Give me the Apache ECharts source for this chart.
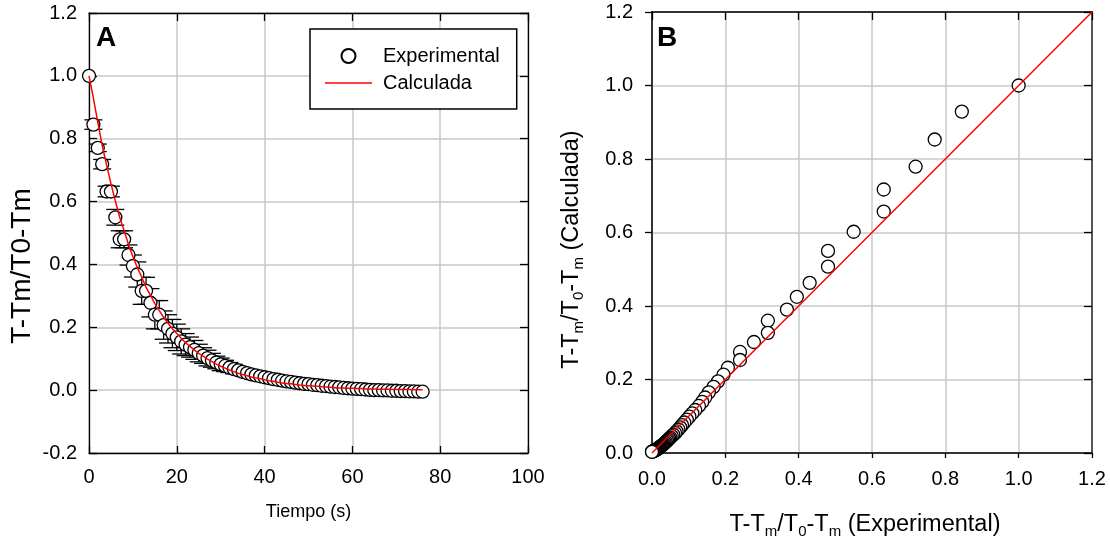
<!DOCTYPE html>
<html>
<head>
<meta charset="utf-8">
<script src="https://cdn.jsdelivr.net/npm/echarts@6/dist/echarts.min.js"></script>
<style>
  html, body { margin: 0; padding: 0; background: #fff; }
  #chart { width: 1110px; height: 546px; }
</style>
</head>
<body>
<div id="chart"></div>
<script>
// tiempo (s)
var tiempo = [0, 1, 2, 3, 4, 5, 6, 7, 8, 9,
  10, 11, 12, 13, 14, 15, 16, 17, 18, 19,
  20, 21, 22, 23, 24, 25, 26, 27, 28, 29,
  30, 31, 32, 33, 34, 35, 36, 37, 38, 39,
  40, 41, 42, 43, 44, 45, 46, 47, 48, 49,
  50, 51, 52, 53, 54, 55, 56, 57, 58, 59,
  60, 61, 62, 63, 64, 65, 66, 67, 68, 69,
  70, 71, 72, 73, 74, 75, 76];

// T-Tm/T0-Tm experimental
var experimental = [1.000, 0.845, 0.771, 0.719, 0.632, 0.632, 0.550, 0.480, 0.480, 0.430,
  0.395, 0.368, 0.316, 0.316, 0.278, 0.240, 0.240, 0.207, 0.195, 0.180,
  0.168, 0.155, 0.145, 0.137, 0.128, 0.118, 0.110, 0.102, 0.095, 0.088,
  0.082, 0.077, 0.072, 0.067, 0.063, 0.058, 0.054, 0.050, 0.047, 0.044,
  0.041, 0.038, 0.035, 0.033, 0.030, 0.028, 0.026, 0.024, 0.022, 0.020,
  0.019, 0.017, 0.016, 0.014, 0.013, 0.011, 0.010, 0.009, 0.007, 0.006,
  0.005, 0.004, 0.003, 0.002, 0.001, 0.000, 0.000, -0.001, -0.001, -0.002,
  -0.002, -0.003, -0.003, -0.004, -0.004, -0.005, -0.005];

// desviacion (barras de error)
var errorExp = [0, 0.015, 0.012, 0.015, 0.017, 0.017, 0.025, 0.027, 0.027, 0.032,
  0.035, 0.040, 0.043, 0.043, 0.045, 0.045, 0.045, 0.045, 0.045, 0.045,
  0.042, 0.040, 0.035, 0.032, 0.030, 0.028, 0.025, 0.025, 0.022, 0.020,
  0.020, 0.018, 0.016, 0.015, 0.012, 0.010, 0.008, 0.007, 0.006, 0.005,
  0, 0, 0, 0, 0, 0, 0, 0, 0, 0,
  0, 0, 0, 0, 0, 0, 0, 0, 0, 0,
  0, 0, 0, 0, 0, 0, 0, 0, 0, 0,
  0, 0, 0, 0, 0, 0, 0];

// T-Tm/T0-Tm calculada
var calculada = [1.000, 0.929, 0.853, 0.779, 0.717, 0.657, 0.602, 0.550, 0.507, 0.463,
  0.425, 0.390, 0.360, 0.327, 0.302, 0.275, 0.253, 0.232, 0.213, 0.195,
  0.180, 0.165, 0.151, 0.139, 0.128, 0.117, 0.108, 0.099, 0.091, 0.083,
  0.076, 0.070, 0.064, 0.059, 0.054, 0.050, 0.046, 0.042, 0.039, 0.036,
  0.033, 0.030, 0.028, 0.025, 0.023, 0.021, 0.020, 0.018, 0.016, 0.015,
  0.014, 0.013, 0.012, 0.011, 0.010, 0.009, 0.008, 0.007, 0.007, 0.006,
  0.006, 0.005, 0.005, 0.004, 0.004, 0.004, 0.003, 0.003, 0.003, 0.002,
  0.002, 0.002, 0.002, 0.002, 0.001, 0.001, 0.001];

// linea 1:1 del panel B
var diagonal = [0, 1.2];

var FONT = 'Liberation Sans, Arial, sans-serif';
var GRID = '#c8c8c8';

var myChart = echarts.init(document.getElementById('chart'));

function fmt1(v) { return v.toFixed(1); }

// eje del marco (sin etiquetas)
function frameAxis(gridIndex, position, min, max, interval, color, width) {
  return {
    gridIndex: gridIndex, type: 'value', position: position,
    min: min, max: max, interval: interval,
    axisLine: { onZero: false, lineStyle: { color: color, width: width } },
    axisTick: { inside: true, length: 8, lineStyle: { color: '#000', width: 1.3 } },
    axisLabel: { show: false },
    splitLine: { show: false }
  };
}

function renderErrorBar(params, api) {
  var x = api.value(0);
  var lo = api.coord([x, api.value(1)]);
  var hi = api.coord([x, api.value(2)]);
  var half = 9;
  var style = { stroke: '#000', lineWidth: 1.3, fill: null };
  return {
    type: 'group',
    children: [
      { type: 'line', shape: { x1: hi[0], y1: hi[1], x2: lo[0], y2: lo[1] }, style: style },
      { type: 'line', shape: { x1: hi[0] - half, y1: hi[1], x2: hi[0] + half, y2: hi[1] }, style: style },
      { type: 'line', shape: { x1: lo[0] - half, y1: lo[1], x2: lo[0] + half, y2: lo[1] }, style: style }
    ]
  };
}

var errorData = [];
for (var i = 0; i < tiempo.length; i++) {
  if (errorExp[i] > 0) {
    errorData.push([tiempo[i], experimental[i] - errorExp[i], experimental[i] + errorExp[i]]);
  }
}

var subRich = { s: { fontSize: 15, lineHeight: 12, verticalAlign: 'bottom', color: '#000', fontFamily: FONT } };

var option = {
  animation: false,
  backgroundColor: '#fff',
  textStyle: { fontFamily: FONT },
  title: [
    { text: 'A', left: 91, top: 19, padding: 5, textStyle: { fontSize: 28, fontWeight: 'bold', color: '#000', fontFamily: FONT } },
    { text: 'B', left: 652, top: 19, padding: 5, textStyle: { fontSize: 28, fontWeight: 'bold', color: '#000', fontFamily: FONT } }
  ],
  legend: {
    data: [
      { name: 'Experimental' },
      { name: 'Calculada', icon: 'path://M0,0h47v1.5h-47z' }
    ],
    orient: 'vertical',
    left: 310, top: 29,
    itemWidth: 47, itemHeight: 14, itemGap: 7,
    symbolKeepAspect: true,
    padding: [17, 17, 16, 15],
    borderColor: '#000', borderWidth: 1.5, backgroundColor: '#fff',
    textStyle: { fontSize: 20, lineHeight: 18, color: '#000', fontFamily: FONT, padding: [0, 0, 0, 6] }
  },
  grid: [
    { left: 89, right: 582, top: 13, bottom: 93 },
    { left: 652, right: 18, top: 12, bottom: 93 }
  ],
  xAxis: [
    {
      gridIndex: 0, type: 'value', position: 'bottom', min: 0, max: 100, interval: 20,
      axisLine: { onZero: false, lineStyle: { color: '#000', width: 1.3 } },
      axisTick: { inside: true, length: 7, lineStyle: { color: '#000', width: 1.3 } },
      axisLabel: { margin: 14, fontSize: 20, color: '#000', fontFamily: FONT },
      splitLine: { show: true, lineStyle: { color: GRID, width: 1.5 } },
      name: 'Tiempo (s)', nameLocation: 'middle', nameGap: 50,
      nameTextStyle: { fontSize: 18, color: '#000', fontFamily: FONT }
    },
    frameAxis(0, 'top', 0, 100, 20, '#000', 1.3),
    {
      gridIndex: 1, type: 'value', position: 'bottom', min: 0, max: 1.2, interval: 0.2,
      axisLine: { onZero: false, lineStyle: { color: '#333', width: 2 } },
      axisTick: { inside: false, length: 5, lineStyle: { color: '#000', width: 1.3 } },
      axisLabel: { margin: 16, fontSize: 20, color: '#000', fontFamily: FONT, formatter: fmt1 },
      splitLine: { show: true, lineStyle: { color: GRID, width: 1.5 } },
      name: 'T-T{s|m}/T{s|0}-T{s|m} (Experimental)', nameLocation: 'middle', nameGap: 58,
      nameTextStyle: { fontSize: 23.5, lineHeight: 28, color: '#000', fontFamily: FONT, padding: [0, 14, 0, 0], rich: subRich }
    },
    frameAxis(1, 'top', 0, 1.2, 0.2, '#333', 2)
  ],
  yAxis: [
    {
      gridIndex: 0, type: 'value', position: 'left', min: -0.2, max: 1.2, interval: 0.2,
      axisLine: { onZero: false, lineStyle: { color: '#000', width: 1.3 } },
      axisTick: { inside: true, length: 8, lineStyle: { color: '#000', width: 1.3 } },
      axisLabel: { margin: 12, fontSize: 20, color: '#000', fontFamily: FONT, formatter: fmt1 },
      splitLine: { show: true, lineStyle: { color: GRID, width: 1.5 } },
      name: 'T-Tm/T0-Tm', nameLocation: 'middle', nameGap: 53,
      nameTextStyle: { fontSize: 28, lineHeight: 28, color: '#000', fontFamily: FONT, padding: [0, 66, 0, 0] }
    },
    frameAxis(0, 'right', -0.2, 1.2, 0.2, '#000', 1.3),
    {
      gridIndex: 1, type: 'value', position: 'left', min: 0, max: 1.2, interval: 0.2,
      axisLine: { onZero: false, lineStyle: { color: '#333', width: 2 } },
      axisTick: { inside: false, length: 7, lineStyle: { color: '#000', width: 1.3 } },
      axisLabel: { margin: 19, fontSize: 20, color: '#000', fontFamily: FONT, formatter: fmt1 },
      splitLine: { show: true, lineStyle: { color: GRID, width: 1.5 } },
      name: 'T-T{s|m}/T{s|0}-T{s|m} (Calculada)', nameLocation: 'middle', nameGap: 66,
      nameTextStyle: { fontSize: 23.5, lineHeight: 28, color: '#000', fontFamily: FONT, padding: [0, 34, 0, 0], rich: subRich }
    },
    frameAxis(1, 'right', 0, 1.2, 0.2, '#555', 2)
  ],
  series: [
    // barras de error panel A
    {
      name: 'Error', type: 'custom', xAxisIndex: 0, yAxisIndex: 0, z: 2,
      renderItem: renderErrorBar,
      encode: { x: 0, y: [1, 2] },
      data: errorData
    },
    {
      name: 'Experimental', type: 'scatter', xAxisIndex: 0, yAxisIndex: 0, z: 3,
      symbol: 'circle', symbolSize: 13,
      itemStyle: { color: '#fff', borderColor: '#000', borderWidth: 1.3, opacity: 1 },
      data: tiempo.map(function (t, i) { return [t, experimental[i]]; })
    },
    {
      name: 'Calculada', type: 'line', xAxisIndex: 0, yAxisIndex: 0, z: 4,
      symbol: 'none', showSymbol: false,
      lineStyle: { color: '#ff0000', width: 1.5 },
      itemStyle: { color: '#ff0000' },
      data: tiempo.map(function (t, i) { return [t, calculada[i]]; })
    },
    // panel B
    {
      name: 'Exp vs Calc', type: 'scatter', xAxisIndex: 2, yAxisIndex: 2, z: 3,
      symbol: 'circle', symbolSize: 13,
      itemStyle: { color: '#fff', borderColor: '#000', borderWidth: 1.3, opacity: 1 },
      data: experimental.map(function (e, i) { return [e, calculada[i]]; })
    },
    {
      name: '1:1', type: 'line', xAxisIndex: 2, yAxisIndex: 2, z: 4,
      symbol: 'none', showSymbol: false,
      lineStyle: { color: '#ff0000', width: 1.5 },
      data: diagonal.map(function (v) { return [v, v]; })
    }
  ]
};

myChart.setOption(option);
</script>
</body>
</html>
